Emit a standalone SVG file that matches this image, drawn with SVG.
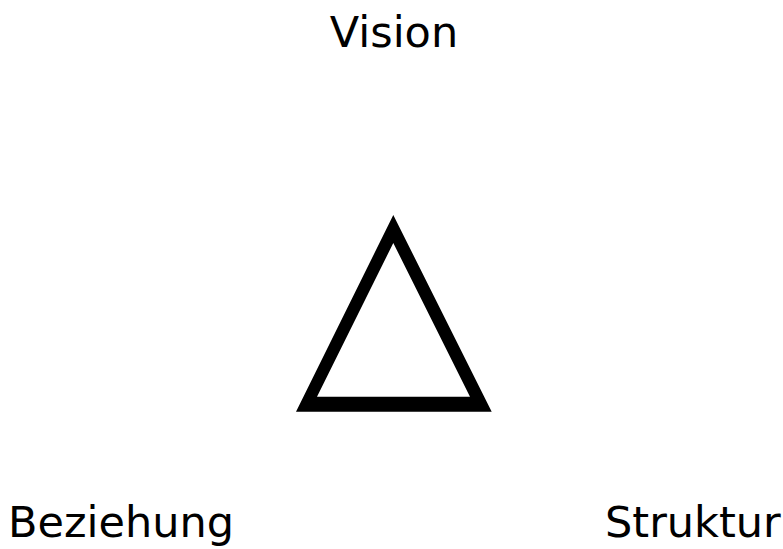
<svg xmlns="http://www.w3.org/2000/svg" width="783" height="549" viewBox="0 0 783 549">
<style>
.lbl{font-family:"DejaVu Sans",sans-serif;font-size:43px;fill:#000}
</style>
<rect width="783" height="549" fill="#fff"/>
<g id="triangle">
<path d="M393.3,215 L296,411.7 L491.7,411.7 Z M393.3,243 L317,396.7 L470,396.7 Z" fill="#000" fill-rule="evenodd"/>
</g>
<g id="vision"><text class="lbl" x="394" y="47" text-anchor="middle">Vision</text></g>
<g id="beziehung"><text class="lbl" x="8" y="537">Beziehung</text></g>
<g id="struktur"><text class="lbl" x="605" y="537">Struktur</text></g>
</svg>
